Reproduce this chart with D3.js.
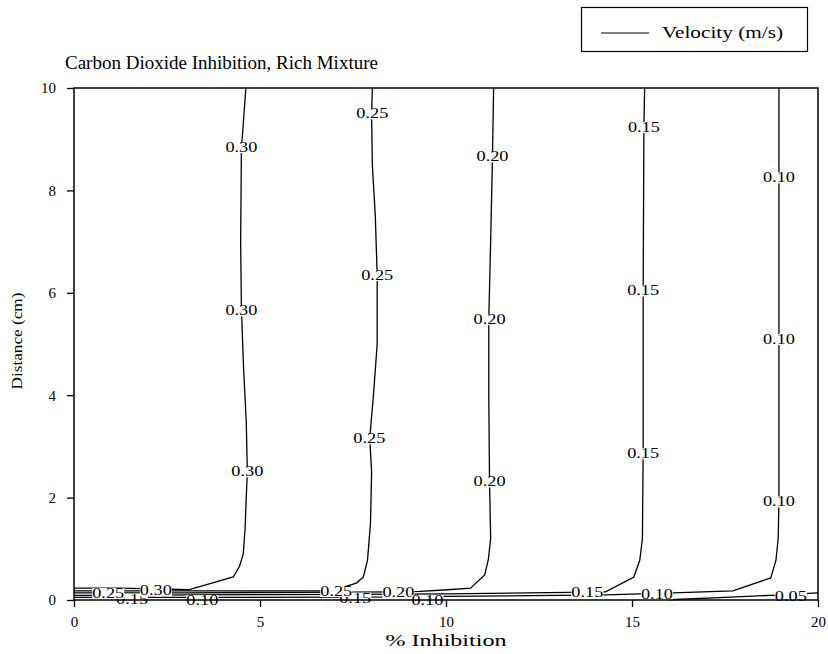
<!DOCTYPE html>
<html>
<head>
<meta charset="utf-8">
<script src="https://cdn.jsdelivr.net/npm/d3@7"></script>
<style>
    body { margin: 0; background: #fff; }
    text { font-family: "Liberation Serif", "Times New Roman", serif; fill: #000; }
</style>
</head>
<body>
<svg id="chart" width="828" height="654"></svg>
<script>
// contour lines, each point is [% inhibition, distance (cm)]
const contour030 = [[0, 0.23], [1.2, 0.23], [2.6, 0.21], [3.07, 0.2], [3.8, 0.35], [4.28, 0.45], [4.45, 0.66],
    [4.55, 0.9], [4.6, 1.4], [4.63, 2.0], [4.66, 2.5], [4.63, 3.5], [4.56, 4.5], [4.5, 5.7], [4.48, 7.0],
    [4.5, 8.8], [4.58, 9.6], [4.62, 10]];
const contour025 = [[0, 0.18], [3.5, 0.18], [6.6, 0.18], [7.2, 0.24], [7.59, 0.33], [7.78, 0.45], [7.89, 0.78],
    [7.97, 1.5], [8.0, 2.5], [7.95, 3.16], [8.05, 4.0], [8.15, 5.0], [8.15, 6.35], [8.1, 7.5], [8.02, 8.5],
    [8.0, 9.5], [8.02, 10]];
const contour020 = [[0, 0.14], [3.0, 0.14], [6.0, 0.15], [8.72, 0.16], [9.3, 0.17], [10.04, 0.2], [10.66, 0.23],
    [11.04, 0.49], [11.14, 0.8], [11.2, 1.2], [11.17, 2.32], [11.15, 4.0], [11.15, 5.49], [11.2, 7.0],
    [11.25, 8.67], [11.28, 10]];
const contour015 = [[0, 0.09], [1.56, 0.09], [3.0, 0.1], [7.56, 0.11], [10.0, 0.12], [13.3, 0.15], [13.8, 0.16],
    [14.29, 0.16], [15.05, 0.45], [15.21, 0.78], [15.28, 1.2], [15.3, 2.87], [15.3, 6.05], [15.32, 9.24],
    [15.34, 10]];
const contour010 = [[0, 0.05], [3.47, 0.05], [9.5, 0.06], [10.0, 0.07], [14.3, 0.1], [15.2, 0.12], [15.67, 0.12],
    [16.1, 0.14], [17.71, 0.18], [18.73, 0.43], [18.87, 0.78], [18.93, 1.2], [18.95, 1.93], [18.95, 5.1],
    [18.95, 8.26], [18.95, 10]];
const contour005 = [[16.0, 0.005], [17.5, 0.05], [18.7, 0.09], [19.27, 0.1], [19.75, 0.13], [20, 0.14]];

const contours = [contour030, contour025, contour020, contour015, contour010, contour005];

// contour labels: [text, % inhibition, distance]
const contourLabels = [
    ['0.30', 4.5, 8.85], ['0.30', 4.5, 5.66], ['0.30', 4.66, 2.52],
    ['0.25', 8.02, 9.51], ['0.25', 8.15, 6.35], ['0.25', 7.94, 3.16],
    ['0.20', 11.25, 8.67], ['0.20', 11.17, 5.49], ['0.20', 11.17, 2.32],
    ['0.15', 15.32, 9.24], ['0.15', 15.3, 6.05], ['0.15', 15.3, 2.87],
    ['0.10', 18.95, 8.26], ['0.10', 18.95, 5.1], ['0.10', 18.95, 1.93],
    ['0.15', 1.56, 0.03], ['0.25', 0.92, 0.14], ['0.30', 2.2, 0.2], ['0.10', 3.45, 0.0],
    ['0.15', 7.56, 0.05], ['0.25', 7.05, 0.18], ['0.20', 8.72, 0.16], ['0.10', 9.5, 0.0],
    ['0.15', 13.8, 0.16], ['0.10', 15.67, 0.12], ['0.05', 19.27, 0.08]
];

const xTicks = [0, 5, 10, 15, 20];
const yTicks = [0, 2, 4, 6, 8, 10];

const titleText = 'Carbon Dioxide Inhibition, Rich Mixture';
const xLabelText = '% Inhibition';
const yLabelText = 'Distance (cm)';
const legendText = 'Velocity (m/s)';

class ContourChart {
    constructor() {
        this.svg = d3.select('#chart');
        this.x = d3.scaleLinear().domain([0, 20]).range([74, 818]);
        this.y = d3.scaleLinear().domain([0, 10]).range([600, 88]);
    }

    draw() {
        this.drawContours();
        this.drawLabels();
        this.drawAxes();
        this.drawText();
        this.drawLegend();
    }

    drawContours() {
        let line = d3.line()
            .x(d => this.x(d[0]))
            .y(d => this.y(d[1]))
            .curve(d3.curveLinear);

        this.svg.append('g')
            .selectAll('path')
            .data(contours)
            .join('path')
            .attr('d', line)
            .style('fill', 'none')
            .style('stroke', '#000')
            .style('stroke-width', 1.3);
    }

    drawLabels() {
        let groups = this.svg.append('g')
            .selectAll('g')
            .data(contourLabels)
            .join('g')
            .attr('transform', d => `translate(${this.x(d[1])},${this.y(d[2])})`);

        groups.append('rect').style('fill', '#fff');
        // the source labels are wider than plain Times, so stretch them a bit
        groups.append('text')
            .attr('x', -16)
            .attr('dy', '0.35em')
            .attr('textLength', 32)
            .attr('lengthAdjust', 'spacingAndGlyphs')
            .style('font-size', '15px')
            .text(d => d[0]);

        // white box behind each label so it breaks the line
        groups.each(function () {
            let box = d3.select(this).select('text').node().getBBox();
            d3.select(this).select('rect')
                .attr('x', box.x)
                .attr('y', box.y + 3)
                .attr('width', box.width)
                .attr('height', box.height - 5);
        });
    }

    drawAxes() {
        let xAxis = d3.axisBottom(this.x).tickValues(xTicks).tickSize(7).tickFormat(d3.format('d'));
        let yAxis = d3.axisLeft(this.y).tickValues(yTicks).tickSize(7).tickFormat(d3.format('d'));

        let gx = this.svg.append('g').attr('transform', 'translate(0,600)').call(xAxis);
        let gy = this.svg.append('g').attr('transform', 'translate(74,0)').call(yAxis);

        for (let g of [gx, gy]) {
            g.select('.domain').remove();
            g.selectAll('line').style('stroke', '#000').style('stroke-width', 1.3);
            g.selectAll('text')
                .style('font-family', '"Liberation Serif", serif')
                .style('font-size', '15px')
                .style('fill', '#000');
        }
        gx.selectAll('text').attr('dy', '1.1em');
        gy.selectAll('text').attr('x', -18);

        // frame
        this.svg.append('rect')
            .attr('x', this.x(0))
            .attr('y', this.y(10))
            .attr('width', this.x(20) - this.x(0))
            .attr('height', this.y(0) - this.y(10))
            .style('fill', 'none')
            .style('stroke', '#000')
            .style('stroke-width', 1.5);
    }

    drawText() {
        this.svg.append('text')
            .attr('x', 65)
            .attr('y', 69)
            .style('font-size', '19px')
            .text(titleText);

        this.svg.append('text')
            .attr('x', 446)
            .attr('y', 646)
            .attr('text-anchor', 'middle')
            .attr('textLength', 121)
            .attr('lengthAdjust', 'spacingAndGlyphs')
            .style('font-size', '17px')
            .text(xLabelText);

        this.svg.append('text')
            .attr('transform', 'translate(22,341) rotate(-90)')
            .attr('text-anchor', 'middle')
            .attr('textLength', 97)
            .attr('lengthAdjust', 'spacingAndGlyphs')
            .style('font-size', '14px')
            .text(yLabelText);
    }

    drawLegend() {
        let legend = this.svg.append('g');
        legend.append('rect')
            .attr('x', 581.5)
            .attr('y', 7.5)
            .attr('width', 226)
            .attr('height', 44)
            .style('fill', '#fff')
            .style('stroke', '#000')
            .style('stroke-width', 1.2);
        legend.append('line')
            .attr('x1', 601)
            .attr('x2', 649)
            .attr('y1', 33)
            .attr('y2', 33)
            .style('stroke', '#000')
            .style('stroke-width', 1.2);
        legend.append('text')
            .attr('x', 662)
            .attr('y', 38)
            .attr('textLength', 121)
            .attr('lengthAdjust', 'spacingAndGlyphs')
            .style('font-size', '16px')
            .text(legendText);
    }
}

let chart = new ContourChart();
chart.draw();
</script>
</body>
</html>
